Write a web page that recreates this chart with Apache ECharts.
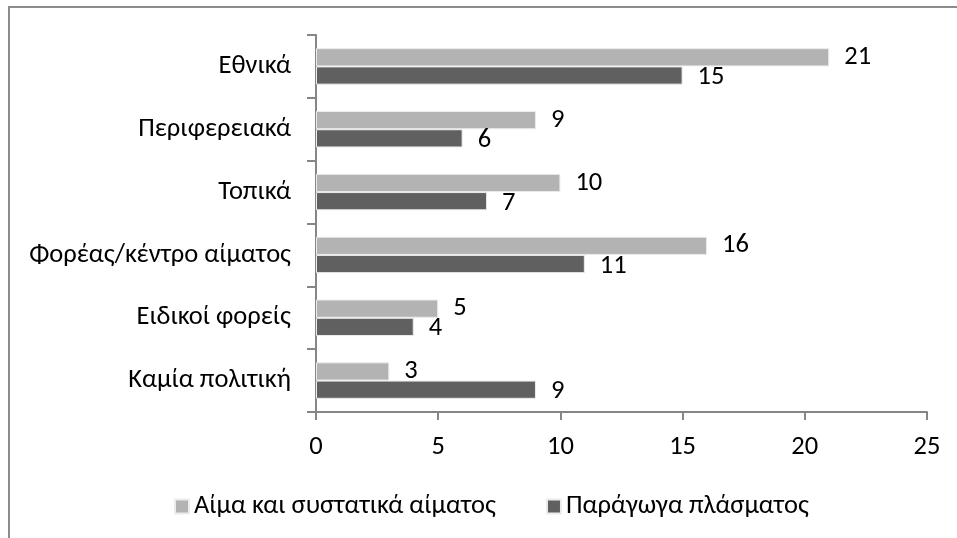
<!DOCTYPE html>
<html>
<head>
<meta charset="utf-8">
<script src="https://cdn.jsdelivr.net/npm/echarts@6/dist/echarts.min.js"></script>
<style>
  html, body { margin: 0; padding: 0; background: #fff; }
  #main { width: 957px; height: 538px; }
</style>
</head>
<body>
<div id="main"></div>
<script>
// κατηγορίες από πάνω προς τα κάτω
const categories = ['Εθνικά', 'Περιφερειακά', 'Τοπικά', 'Φορέας/κέντρο αίματος', 'Ειδικοί φορείς', 'Καμία πολιτική']
const seriesNames = ['Αίμα και συστατικά αίματος', 'Παράγωγα πλάσματος']
const bloodValues = [21, 9, 10, 16, 5, 3]
const plasmaValues = [15, 6, 7, 11, 4, 9]
const xTicks = [0, 5, 10, 15, 20, 25]

const font = 'Carlito, Calibri, "Open Sans", sans-serif'
const fontSize = 26.5
const axisGray = '#868686'

const chart = echarts.init(document.getElementById('main'))

// category axis is inverted so the first category sits at the top
chart.setOption({
  animation: false,
  textStyle: { fontFamily: font },
  graphic: [{
    type: 'rect',
    shape: { x: 9, y: 7, width: 1200, height: 1200 },
    style: { fill: 'none', stroke: '#8c8c8c', lineWidth: 2 },
    silent: true
  }],
  grid: { left: 316, right: 30, top: 35, bottom: 126, containLabel: false },
  legend: {
    data: seriesNames,
    top: 488,
    left: 169,
    itemWidth: 14,
    itemHeight: 14,
    itemGap: 50,
    icon: 'rect',
    textStyle: { fontSize: fontSize, color: '#000', fontFamily: font }
  },
  xAxis: {
    type: 'value',
    min: xTicks[0],
    max: xTicks[xTicks.length - 1],
    interval: 5,
    splitLine: { show: false },
    axisLine: { show: true, lineStyle: { color: axisGray, width: 2 } },
    axisTick: { show: true, length: 8, lineStyle: { color: axisGray, width: 2 } },
    axisLabel: { fontSize: fontSize, color: '#000', margin: 22 }
  },
  yAxis: {
    type: 'category',
    data: categories,
    inverse: true,
    axisLine: { show: true, lineStyle: { color: axisGray, width: 2 } },
    axisTick: { show: true, length: 9, alignWithLabel: false, lineStyle: { color: axisGray, width: 2 } },
    axisLabel: { fontSize: fontSize, color: '#000', margin: 25 }
  },
  series: [
    {
      name: seriesNames[0],
      type: 'bar',
      data: bloodValues,
      barGap: '0%',
      barCategoryGap: '42%',
      itemStyle: { color: '#b3b3b3', borderColor: '#ececec', borderWidth: 1 },
      label: { show: true, position: 'right', distance: 15, fontSize: fontSize, color: '#000' }
    },
    {
      name: seriesNames[1],
      type: 'bar',
      data: plasmaValues,
      barGap: '0%',
      barCategoryGap: '42%',
      itemStyle: { color: '#606060', borderColor: '#ececec', borderWidth: 1 },
      label: { show: true, position: 'right', distance: 15, fontSize: fontSize, color: '#000', offset: [0, 2] }
    }
  ]
})
</script>
</body>
</html>
